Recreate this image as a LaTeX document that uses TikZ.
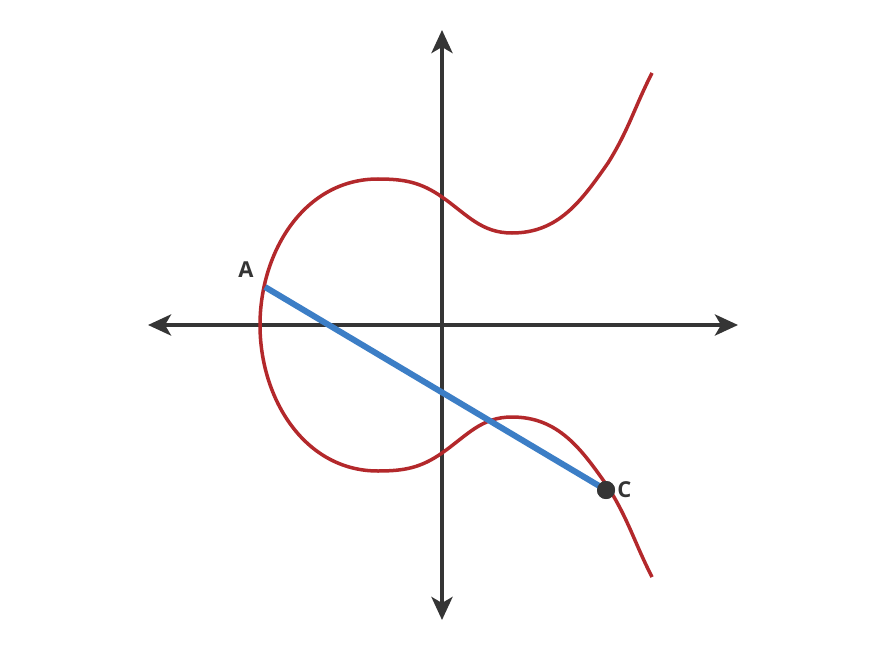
\documentclass[tikz,border=0pt]{standalone}
\usepackage{fontspec}
\setsansfont{Open Sans}
\usetikzlibrary{arrows.meta,positioning}
\definecolor{axisDraw}{HTML}{353535}
\definecolor{curveDraw}{HTML}{B3282B}
\definecolor{chordDraw}{HTML}{3C7EC6}
\tikzset{
  x=0.2mm, y=0.2mm,
  axis/.style  ={draw=axisDraw, line width=0.8mm,
                 {Stealth[length=4.6mm,width=4.2mm,inset=1.2mm]}-{Stealth[length=4.6mm,width=4.2mm,inset=1.2mm]}},
  curve/.style ={draw=curveDraw, line width=0.7mm},
  chord/.style ={draw=chordDraw, line width=1.2mm},
  pt/.style    ={circle, fill=axisDraw, inner sep=0pt, minimum size=3.6mm},
  lbl/.style   ={font=\sffamily\bfseries\fontsize{12.5}{15}\selectfont, text=axisDraw, inner sep=1pt},
}
\begin{document}
\begin{tikzpicture}
  \useasboundingbox[fill=white] (-442,-344) rectangle (437,325);
  % axes
  \coordinate (xl) at (-294,0);  \coordinate (xr) at (296,0);
  \coordinate (yb) at (0,-295);  \coordinate (yt) at (0,295);
  \draw[axis] (xl) -- (xr);
  \draw[axis] (yb) -- (yt);

  % curve, upper end to lower end
  \draw[curve] (210,252) to[out=-117,in=58] (166,162) to[out=-125,in=0] (70,92)
    to[out=180,in=-35] (0,128) to[out=145,in=0] (-64,146) to[out=180,in=90] (-182,0)
    to[out=-90,in=180] (-64,-146) to[out=0,in=-145] (0,-128) to[out=35,in=180] (70,-92)
    to[out=0,in=125] (166,-162) to[out=-58,in=117] (210,-252);

  % chord A -- C
  \coordinate (A) at (-177,38);
  \node[pt] (C) at (164,-165) {};
  \draw[chord] (A) -- (C.center);
  \node[pt] at (C) {};
  \node[lbl] (Alab) at (-196,55) {A};
  \node[lbl, right=0pt of C] (Clab) {C};
\end{tikzpicture}
\end{document}
